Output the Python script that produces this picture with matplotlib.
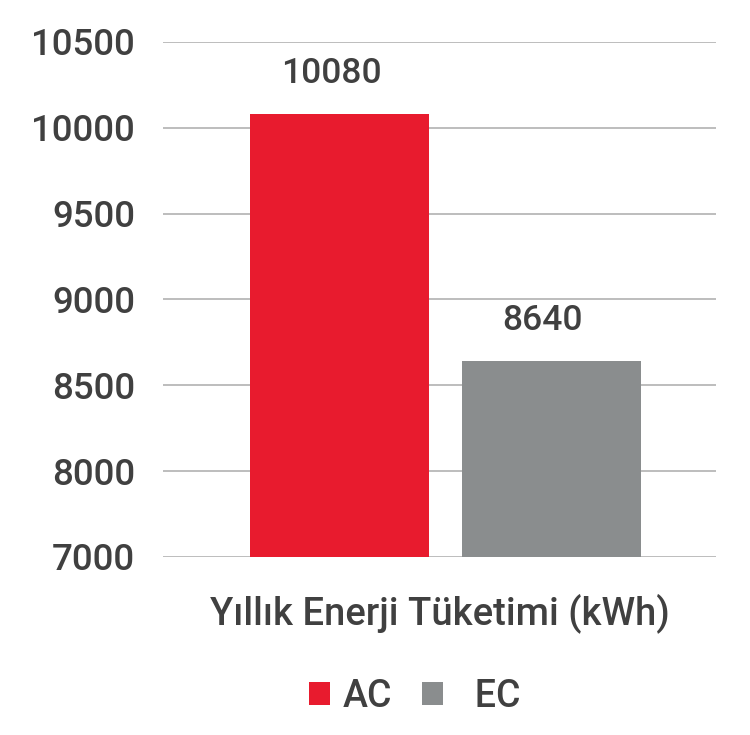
# Yillik enerji tuketimi - AC vs EC bar chart

import numpy as np
import matplotlib.pyplot as plt

plt.rcParams['font.family'] = ['Roboto', 'DejaVu Sans']
plt.rcParams['font.weight'] = 'medium'

# data
category = 'Yıllık Enerji Tüketimi (kWh)'
series = ['AC', 'EC']
values = [10080, 8640]
colors = ['#e81b2e', '#8a8d8e']
# the source chart has equally spaced gridlines but skips 7500 in its labels
yticks = [7500, 8000, 8500, 9000, 9500, 10000, 10500]
ytick_labels = ['7000', '8000', '8500', '9000', '9500', '10000', '10500']

text_color = '#404040'

fig = plt.figure(figsize=(7.5, 7.35), dpi=100)
ax = fig.add_axes([0.2173, 0.2422, 0.7374, 0.7007])

offsets = [-0.181, 0.202]
width = 0.324
ymin = yticks[0]
bars = []
for i in range(len(series)):
    b = ax.bar(offsets[i], values[i] - ymin, bottom=ymin, width=width,
               color=colors[i], zorder=2, label=series[i])
    bars.append(b)
    ax.text(offsets[i] - 0.015, values[i] + 180, str(values[i]), ha='center',
            va='baseline', fontsize=25.5, color=text_color)

ax.set_xlim(-0.5, 0.5)
ax.set_ylim(yticks[0], yticks[-1])
ax.set_yticks(yticks)
ax.set_yticklabels(ytick_labels, fontsize=26.5, color=text_color)
ax.tick_params(axis='y', length=0, pad=20)
ax.set_xticks([0])
ax.set_xticklabels([category], fontsize=27.5, color=text_color)
ax.tick_params(axis='x', length=0, pad=26)
ax.yaxis.grid(True, color='#bdbdbd', linewidth=1.4, zorder=0)
ax.set_axisbelow(True)
for s in ax.spines.values():
    s.set_visible(False)

leg = fig.legend(handles=[bars[0], bars[1]], labels=['AC', '  EC'],
                 loc='center', bbox_to_anchor=(0.553, 0.053), ncol=2,
                 frameon=False, fontsize=27, handlelength=0.55, handleheight=0.55,
                 handletextpad=0.35, columnspacing=0.8)
for t in leg.get_texts():
    t.set_color(text_color)

plt.savefig('out.png', dpi=100)
